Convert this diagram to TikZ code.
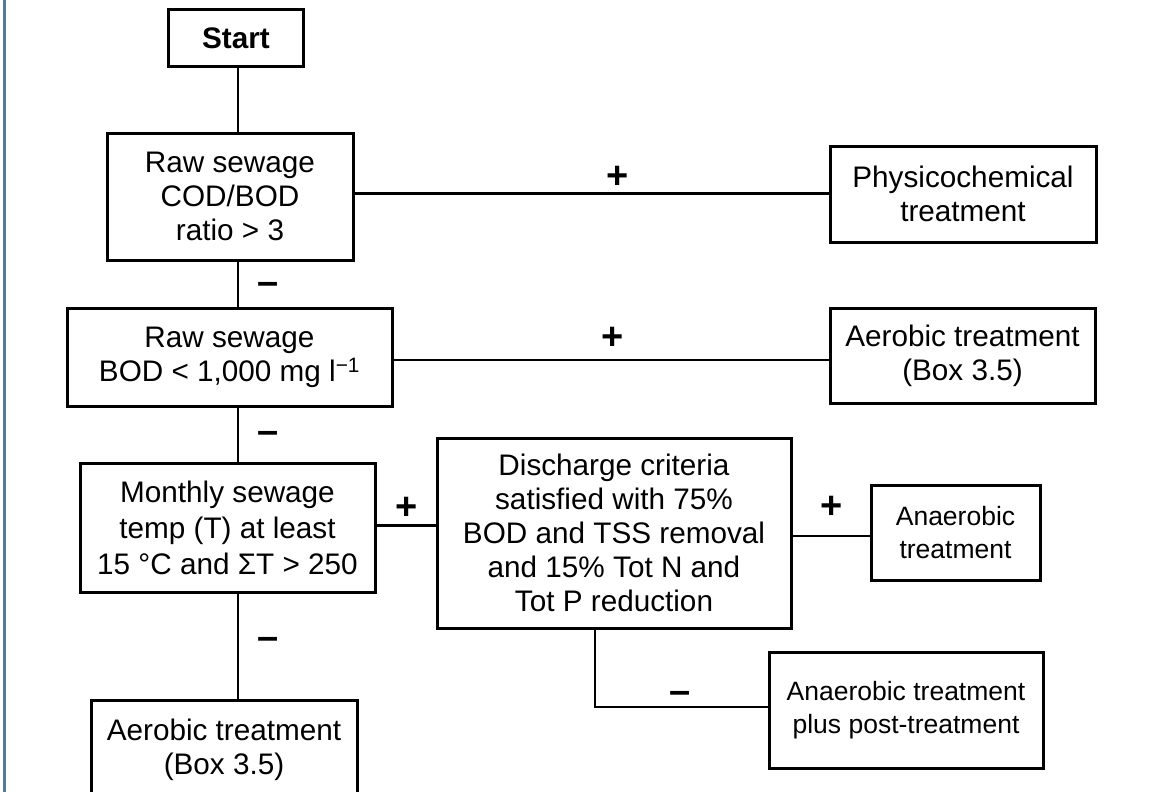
\documentclass[tikz,border=0pt]{standalone}
\usepackage{fontspec}
\setmainfont{Liberation Sans}
\definecolor{framecol}{RGB}{88,122,150}
\begin{document}
\begin{tikzpicture}[x=1pt,y=-1pt,
  box/.style={draw, line width=3pt, inner sep=0pt, align=center,
    font=\fontsize{29.7}{34}\selectfont},
  sbox/.style={box, font=\fontsize{26.5}{33}\selectfont},
  conn/.style={line width=2.4pt},
  sign/.style={inner sep=0pt, font=\fontsize{38}{38}\selectfont\bfseries}]
\useasboundingbox (0,0) rectangle (1159,792);
\clip (0,0) rectangle (1159,792);
\fill[white] (0,0) rectangle (1159,792);
\draw[line width=3pt, framecol] (4,0) -- (4,792);

\node[box, font=\fontsize{29.7}{34}\selectfont\bfseries, minimum width=135pt, minimum height=57pt] (start) at (236,38.5) {Start};
\node[box, minimum width=246pt, minimum height=127pt] (raw1) at (230,196.5) {Raw sewage\\COD/BOD\\ratio \textgreater{} 3};
\node[box, minimum width=266pt, minimum height=96pt] (phys) at (963,194) {Physicochemical\\treatment};
\node[box, minimum width=325pt, minimum height=98pt] (raw2) at (229.5,357) {Raw sewage\\BOD \textless{} 1,000 mg l\textsuperscript{−1}};
\node[box, minimum width=265pt, minimum height=95pt] (aer1) at (962.5,355.5) {Aerobic treatment\\(Box 3.5)};
\node[box, font=\fontsize{29.7}{36}\selectfont, minimum width=295pt, minimum height=129pt] (month) at (227.5,527.5) {Monthly sewage\\temp (T) at least\\15 °C and ΣT \textgreater{} 250};
\node[box, minimum width=354pt, minimum height=190pt] (disch) at (614,533) {Discharge criteria\\satisfied with 75\%\\BOD and TSS removal\\and 15\% Tot N and\\Tot P reduction};
\node[sbox, minimum width=169pt, minimum height=95pt] (anaer) at (955.5,532.5) {Anaerobic\\treatment};
\node[sbox, minimum width=274pt, minimum height=116pt] (post) at (906,710) {Anaerobic treatment\\plus post-treatment};
\node[box, minimum width=266pt, minimum height=100pt] (aer2) at (224,750) {Aerobic treatment\\(Box 3.5)};

\coordinate (spine) at (238,0);
\draw[conn] (start.south -| spine) -- (raw1.north -| spine);
\draw[conn] (raw1.south -| spine) -- (raw2.north -| spine);
\draw[conn] (raw2.south -| spine) -- (month.north -| spine);
\draw[conn] (month.south -| spine) -- (aer2.north -| spine);
\draw[conn] ([yshift=3pt]raw1.east) -- ([yshift=3pt]raw1.east -| phys.west);
\draw[conn] ([yshift=-3pt]raw2.east) -- ([yshift=-3pt]raw2.east -| aer1.west);
\draw[conn] ([yshift=2pt]month.east) -- ([yshift=2pt]month.east -| disch.west);
\draw[conn] ([yshift=-3pt]disch.east) -- ([yshift=-3pt]disch.east -| anaer.west);
\draw[conn] ([xshift=-19pt]disch.south) |- ([yshift=3pt]post.west);

\node[sign] (p1) at (618,177) {+};
\node[sign] (p2) at (613,338) {+};
\node[sign] (p3) at (407,508) {+};
\node[sign] (p4) at (832,507) {+};
\node[sign] (m1) at (268,288) {–};
\node[sign] (m2) at (268,437) {–};
\node[sign] (m3) at (268,643) {–};
\node[sign] (m4) at (680,697) {–};
\end{tikzpicture}
\end{document}
